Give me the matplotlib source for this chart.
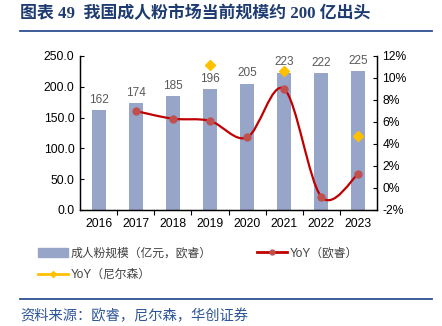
import numpy as np
import matplotlib.pyplot as plt
from matplotlib.path import Path
from matplotlib.patches import PathPatch, Patch
from matplotlib.lines import Line2D
from matplotlib.ticker import FuncFormatter, FixedLocator

plt.rcParams['font.family'] = ['Liberation Sans', 'Noto Sans CJK SC']

years = ['2016', '2017', '2018', '2019', '2020', '2021', '2022', '2023']
scale = [162, 174, 185, 196, 205, 223, 222, 225]           # 亿元, 欧睿
yoy_ors = [7.0, 6.3, 6.1, 4.6, 9.0, -0.8, 1.3]              # %, 2017-2023
yoy_nielsen = {3: 11.2, 5: 10.6, 7: 4.7}                    # %, index -> value

W, H = 442, 326
fig = plt.figure(figsize=(W / 100, H / 100), dpi=100)

def px(x0, y0, x1, y1):
    return [x0 / W, 1 - y1 / H, (x1 - x0) / W, (y1 - y0) / H]

ax = fig.add_axes(px(80, 56, 377, 210))
ax2 = ax.twinx()

x = np.arange(len(years))
bar_color = '#97A5C9'
ax.bar(x, scale, width=0.38, color=bar_color, zorder=2)
for xi, v in zip(x, scale):
    ax.text(xi, v + 7, str(v), ha='center', va='bottom', fontsize=8.5, color='#595959')

ax.set_xlim(-0.5, len(years) - 0.5)
ax.set_ylim(0, 250)
ax.set_yticks(np.arange(0, 251, 50))
ax.yaxis.set_major_formatter(FuncFormatter(lambda v, p: '%.1f' % v))
ax.set_xticks(x)
ax.set_xticklabels(years)
ax.xaxis.set_minor_locator(FixedLocator(np.arange(0.5, len(years) - 1, 1)))
ax.tick_params(axis='x', which='major', length=0, pad=6, labelsize=8.7, colors='#000000')
ax.tick_params(axis='x', which='minor', length=3.5, direction='out', width=0.8)
ax.tick_params(axis='y', length=3, direction='in', width=0.8, labelsize=8.7, pad=4)

ax2.set_ylim(-2, 12)
ax2.set_yticks(np.arange(-2, 13, 2))
ax2.yaxis.set_major_formatter(FuncFormatter(lambda v, p: '%d%%' % v))
ax2.tick_params(axis='y', length=3, direction='in', width=0.8, labelsize=8.7, pad=4)

for a in (ax, ax2):
    a.spines['top'].set_visible(False)
    for s in ('left', 'right', 'bottom'):
        a.spines[s].set_linewidth(0.9)
        a.spines[s].set_color('#000000')

# smoothed YoY line (欧睿), cubic bezier segments through the points
px_ = list(x[1:].astype(float))
py_ = list(yoy_ors)
P = np.column_stack([px_, py_])
Pext = np.vstack([P[0], P, P[-1]])
verts = [tuple(P[0])]
codes = [Path.MOVETO]
for i in range(len(P) - 1):
    p0, p1, p2, p3 = Pext[i], Pext[i + 1], Pext[i + 2], Pext[i + 3]
    c1 = p1 + (p2 - p0) / 6
    c2 = p2 - (p3 - p1) / 6
    verts += [tuple(c1), tuple(c2), tuple(p2)]
    codes += [Path.CURVE4] * 3
red = '#C00000'
ax2.add_patch(PathPatch(Path(verts, codes), facecolor='none', edgecolor=red, lw=1.6, zorder=3))
ax2.plot(px_, py_, 'o', ms=5, color='#C0504D', mec='#C0504D', zorder=4)

gold = '#FFC000'
nx = list(yoy_nielsen.keys())
ny = list(yoy_nielsen.values())
ax2.plot(nx, ny, 'D', ms=5, color=gold, mec=gold, ls='none', zorder=4)

handles = [
    Patch(color=bar_color),
    Line2D([], [], color=gold, lw=2, marker='D', ms=3),
    Line2D([], [], color=red, lw=2, marker='o', ms=3.5, mfc='#C0504D', mec='#C0504D'),
]
labels = ['成人粉规模（亿元，欧睿）', 'YoY（尼尔森）', 'YoY（欧睿）']
fig.legend(handles, labels, ncol=2, loc='upper left', bbox_to_anchor=(27 / W, 1 - 237 / H),
           frameon=False, fontsize=8.5, handlelength=2.6, handleheight=0.7,
           columnspacing=3.8, handletextpad=0.2, labelspacing=0.8, labelcolor='#404040')

# title and source
navy = '#1F3C72'
fig.text(20 / W, 1 - 14 / H, '图表 49  我国成人粉市场当前规模约 200 亿出头',
         family=['Liberation Serif', 'Noto Sans CJK SC'], weight='bold',
         fontsize=12.2, color=navy, va='center', ha='left')
fig.add_artist(Line2D([20 / W, 432 / W], [1 - 31 / H, 1 - 31 / H], color='#2E5090', lw=1.3))
fig.add_artist(Line2D([20 / W, 432 / W], [1 - 299 / H, 1 - 299 / H], color='#2E5090', lw=1.3))
fig.text(20 / W, 1 - 316 / H, '资料来源：欧睿，尼尔森，华创证券', fontsize=10.3,
         color='#2E5597', va='center', ha='left', style='italic')

fig.savefig('out.png', dpi=100)
